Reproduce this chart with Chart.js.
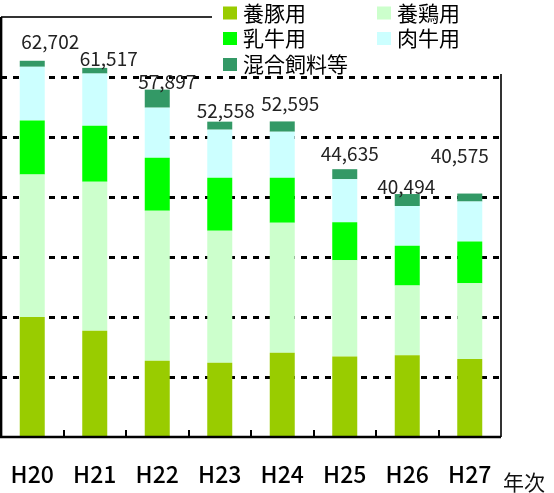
<!DOCTYPE html>
<html>
<head>
<meta charset="utf-8">
<script src="https://cdn.jsdelivr.net/npm/chart.js@4.4.1/dist/chart.umd.min.js"></script>
<style>
  html, body { margin: 0; padding: 0; background: #fff; }
  canvas { display: block; }
</style>
</head>
<body>
<canvas id="myChart" width="554" height="493"></canvas>
<script>
// years (平成) and feed use
const years = ['H20', 'H21', 'H22', 'H23', 'H24', 'H25', 'H26', 'H27'];
const pig     = [19990, 17720, 12720, 12385, 14050, 13410, 13640, 13000];
const poultry = [23770, 24840, 25005, 22005, 21665, 16030, 11600, 12620];
const dairy   = [8970, 9335, 8835, 8835, 7500, 6345, 6630, 6975];
const beef    = [8970, 8670, 8335, 8000, 7665, 7180, 6630, 6645];
const mixed   = [1002, 952, 3002, 1333, 1715, 1670, 1994, 1335];
const totals  = [62702, 61517, 57897, 52558, 52595, 44635, 40494, 40575];
const yTicks  = [10000, 20000, 30000, 40000, 50000, 60000];
const yMax    = 70000;

// hand-moved total labels (px from bar top centre)
const labelNudge = [[18, 19], [14, 9], [10, 8], [6, 11], [8, 18], [5, 15], [-1, 7], [-10, 38]];

const jp = '"Noto Sans CJK JP", "Noto Sans", sans-serif';

let framePlugin = {
    id: 'frame',
    beforeDatasetsDraw(chart) {
        let {ctx, chartArea: a, scales: {y}} = chart;
        ctx.save();
        ctx.strokeStyle = '#000';
        ctx.lineWidth = 3;
        ctx.setLineDash([6, 6]);
        for (let v of yTicks) {
            let py = Math.round(y.getPixelForValue(v)) + 0.5;
            ctx.beginPath();
            ctx.moveTo(a.left, py);
            ctx.lineTo(a.right, py);
            ctx.stroke();
        }
        ctx.restore();
    },
    afterDatasetsDraw(chart) {
        let {ctx, chartArea: a, scales: {x}} = chart;
        ctx.save();
        // top + right frame
        ctx.strokeStyle = '#333';
        ctx.lineWidth = 2;
        ctx.beginPath();
        ctx.moveTo(a.left, a.top);
        ctx.lineTo(a.right, a.top);
        ctx.lineTo(a.right, a.bottom);
        ctx.stroke();
        // left + bottom axis
        ctx.strokeStyle = '#000';
        ctx.lineWidth = 2.7;
        ctx.beginPath();
        ctx.moveTo(a.left, a.top);
        ctx.lineTo(a.left, a.bottom);
        ctx.lineTo(a.right, a.bottom);
        ctx.stroke();
        // little inner ticks between categories
        ctx.lineWidth = 2;
        for (let i = 1; i < years.length; i++) {
            let px = Math.round((x.getPixelForValue(i - 1) + x.getPixelForValue(i)) / 2);
            ctx.beginPath();
            ctx.moveTo(px, a.bottom);
            ctx.lineTo(px, a.bottom - 7);
            ctx.stroke();
        }

        // totals
        let top = chart.getDatasetMeta(chart.data.datasets.length - 1);
        ctx.fillStyle = '#222';
        ctx.font = '19px ' + jp;
        ctx.textAlign = 'center';
        ctx.textBaseline = 'middle';
        top.data.forEach((bar, i) => {
            let n = labelNudge[i];
            ctx.fillText(totals[i].toLocaleString('en-US'), bar.x + n[0], bar.y - n[1]);
        });

        // axis title
        ctx.fillStyle = '#111';
        ctx.font = '21px ' + jp;
        ctx.textAlign = 'left';
        ctx.fillText('年次', 503, 482);

        // legend (white box over the frame, two columns)
        ctx.fillStyle = '#fff';
        ctx.fillRect(212, 0, 554 - 212, 74);
        let cols = [223, 377];
        let rows = [13, 38.5, 64.5];
        ctx.font = '21px ' + jp;
        chart.data.datasets.forEach((ds, i) => {
            let cx = cols[i % 2], cy = rows[Math.floor(i / 2)];
            ctx.fillStyle = ds.backgroundColor;
            ctx.fillRect(cx, cy - 6.5, 14, 13);
            ctx.fillStyle = '#000';
            ctx.fillText(ds.label, cx + 20, cy);
        });
        ctx.restore();
    }
};

let ctx = document.getElementById('myChart').getContext('2d');
let chart = new Chart(ctx, {
    type: 'bar',
    data: {
        labels: years,
        datasets: [
            { label: '養豚用',     backgroundColor: '#99cc00', data: pig },
            { label: '養鶏用',     backgroundColor: '#ccffcc', data: poultry },
            { label: '乳牛用',     backgroundColor: '#00ff00', data: dairy },
            { label: '肉牛用',     backgroundColor: '#ccffff', data: beef },
            { label: '混合飼料等', backgroundColor: '#339966', data: mixed }
        ]
    },
    options: {
        responsive: false,
        animation: false,
        devicePixelRatio: 1,
        layout: { padding: { left: 1, right: 53, top: 17, bottom: 0 } },
        datasets: { bar: { categoryPercentage: 1, barPercentage: 0.4 } },
        plugins: { legend: { display: false }, tooltip: { enabled: false } },
        scales: {
            x: {
                stacked: true,
                grid: { display: false },
                border: { display: false },
                ticks: { color: '#000', padding: 15, font: { family: jp, size: 23, weight: '500' } },
                afterFit(scale) {
                    scale.height = 56;
                    scale.paddingLeft = 0;
                    scale.paddingRight = 0;
                }
            },
            y: {
                display: false,
                stacked: true,
                min: 0,
                max: yMax
            }
        }
    },
    plugins: [framePlugin]
});
</script>
</body>
</html>
